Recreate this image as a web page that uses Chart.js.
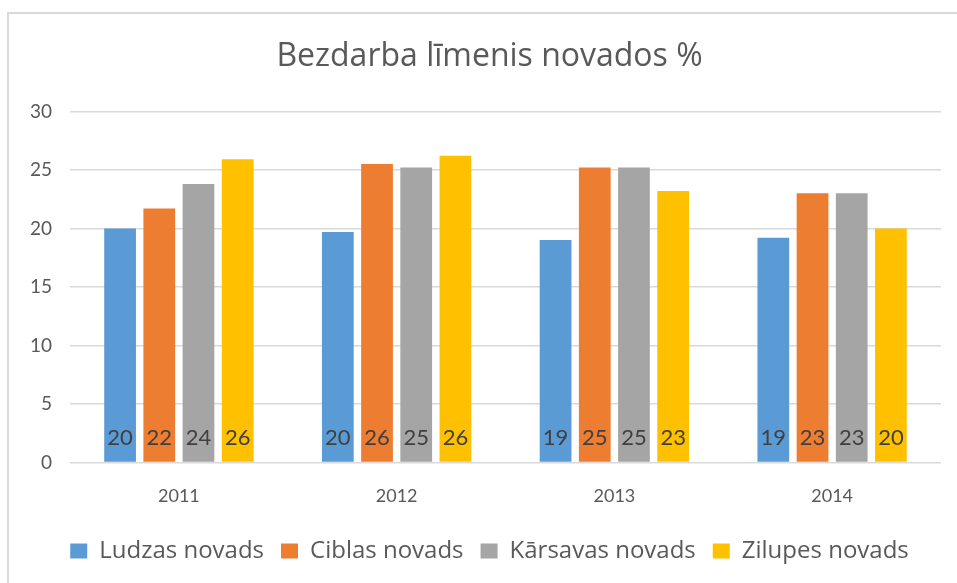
<!DOCTYPE html>
<html>
<head>
<meta charset="utf-8">
<script src="https://cdn.jsdelivr.net/npm/chart.js@4/dist/chart.umd.min.js"></script>
<style>
  html, body { margin: 0; padding: 0; background: #fff; }
  #wrap { width: 957px; height: 583px; position: relative; }
</style>
</head>
<body>
<div id="wrap"><canvas id="chart" width="957" height="583"></canvas></div>
<script>
const years    = ['2011', '2012', '2013', '2014'];
const ludzas   = [20.0, 19.7, 19.0, 19.2];
const ciblas   = [21.7, 25.5, 25.2, 23.0];
const karsavas = [23.8, 25.2, 25.2, 23.0];
const zilupes  = [25.9, 26.2, 23.2, 20.0];
const yTicks   = [0, 5, 10, 15, 20, 25, 30];

const seriesNames  = ['Ludzas novads', 'Ciblas novads', 'Kārsavas novads', 'Zilupes novads'];
const seriesColors = ['#5b9bd5', '#ed7d31', '#a5a5a5', '#ffc000'];
const seriesData   = [ludzas, ciblas, karsavas, zilupes];

const FONT = 'Lato';
const WIDE = 'Open Sans';
const textColor = '#595959';

// frame round the chart, like the Excel chart border
const frame = {
  id: 'frame',
  beforeDraw(chart) {
    const ctx = chart.ctx;
    ctx.save();
    ctx.strokeStyle = '#d9d9d9';
    ctx.lineWidth = 2;
    ctx.beginPath();
    ctx.moveTo(8, 583);
    ctx.lineTo(8, 13);
    ctx.lineTo(957, 13);
    ctx.stroke();
    ctx.restore();
  }
};

// title and legend are centred on the whole frame, not on the plot box
const centreShift = {
  id: 'centreShift',
  afterLayout(chart) {
    const dx = 14;
    [chart.titleBlock, chart.legend].forEach(box => {
      if (!box) return;
      box.left += dx;
      box.right += dx;
    });
  }
};

// rounded values written inside the foot of every bar
const baseLabels = {
  id: 'baseLabels',
  afterDatasetsDraw(chart) {
    const ctx = chart.ctx;
    const base = chart.scales.y.getPixelForValue(0);
    ctx.save();
    ctx.font = '22px ' + FONT;
    ctx.fillStyle = '#404040';
    ctx.textAlign = 'center';
    ctx.textBaseline = 'alphabetic';
    chart.data.datasets.forEach((ds, i) => {
      chart.getDatasetMeta(i).data.forEach((bar, j) => {
        ctx.fillText(Math.round(ds.data[j]), bar.x, base - 17);
      });
    });
    ctx.restore();
  }
};

new Chart(document.getElementById('chart'), {
  type: 'bar',
  data: {
    labels: years,
    datasets: seriesData.map((d, i) => ({
      label: seriesNames[i],
      data: d,
      backgroundColor: seriesColors[i],
      borderWidth: 0,
      categoryPercentage: 0.72,
      barPercentage: 0.81,
    })),
  },
  options: {
    responsive: false,
    animation: false,
    layout: { padding: { left: 10, right: 16, top: 0, bottom: 10 } },
    plugins: {
      title: {
        display: true,
        text: 'Bezdarba līmenis novados %',
        color: textColor,
        font: { family: WIDE, size: 32, weight: 'normal' },
        padding: { top: 38, bottom: 35 },
      },
      legend: {
        position: 'bottom',
        labels: {
          color: textColor,
          font: { family: WIDE, size: 24 },
          boxWidth: 17,
          boxHeight: 15,
          padding: 17,
        },
      },
      tooltip: { enabled: false },
    },
    scales: {
      x: {
        grid: { display: false },
        border: { display: false },
        ticks: { color: textColor, font: { family: FONT, size: 18 }, padding: 15 },
      },
      y: {
        min: 0,
        max: 30,
        afterFit(scale) { scale.width = 60; },
        afterBuildTicks(scale) { scale.ticks = yTicks.map(v => ({ value: v })); },
        grid: { color: '#d9d9d9', lineWidth: 1.5, drawTicks: false },
        border: { display: false },
        ticks: { color: textColor, font: { family: FONT, size: 19 }, padding: 18 },
      },
    },
  },
  plugins: [frame, centreShift, baseLabels],
});
</script>
</body>
</html>
